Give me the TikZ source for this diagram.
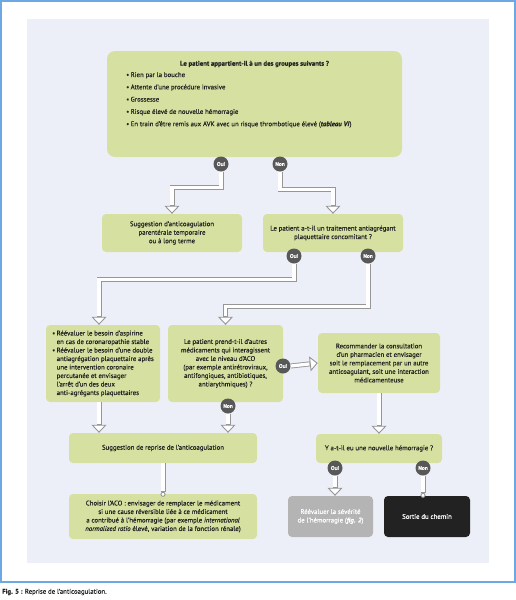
\documentclass[tikz,border=0pt]{standalone}
\usepackage{fontspec}
\setmainfont{PT Sans}[BoldFont={PT Sans Bold}, ItalicFont={PT Sans Italic},
  BoldItalicFont={PT Sans Bold Italic}, FakeBold=0.3]
\usetikzlibrary{arrows.meta}
\definecolor{fond}{RGB}{237,239,248}
\definecolor{vert}{RGB}{214,224,160}
\definecolor{cadre}{RGB}{110,168,228}
\definecolor{gristrait}{RGB}{150,150,150}
\definecolor{pastille}{RGB}{88,88,88}
\definecolor{texte}{RGB}{35,35,35}
\definecolor{grisbox}{RGB}{180,180,180}
\definecolor{noirbox}{RGB}{34,34,34}
\newcommand\puce{\makebox[4.5pt][l]{•}}

\begin{document}
\begin{tikzpicture}[x=1pt,y=-1pt,
    box/.style={fill=vert, rounded corners=4pt, align=center, text=texte, inner sep=2pt,
      font=\fontsize{6.8}{8.5}\selectfont},
    choice/.style={circle, fill=pastille, text=white, inner sep=0pt, minimum size=15pt,
      font=\fontsize{5.5}{6}\selectfont\bfseries},
    flow/.style={draw=gristrait, line width=5pt,
      -{Triangle[open, fill=white, line width=0.9pt, length=8pt, width=15pt]},
      postaction={draw=white, line width=3.2pt, -, shorten >=8.4pt}},
    flowdot/.style={draw=gristrait, line width=5pt,
      -{Circle[open, fill=white, line width=0.9pt, length=5pt]},
      postaction={draw=white, line width=3.2pt, -, shorten >=5.4pt}}]
  \useasboundingbox (0,0) rectangle (516,600);
  \draw[cadre, line width=1.2pt] (1,1) rectangle (515,582);
  \fill[fond] (27,19) rectangle (489,563);

  % premiere question
  \node[box, rounded corners=8pt, minimum width=295pt, minimum height=106pt] (groupes) at (254.5,104) {};
  \node[text=texte, font=\fontsize{6.8}{8}\selectfont\bfseries, inner sep=0pt] (titre) at (254.5,64)
    {Le patient appartient-il à un des groupes suivants ?};
  \node[anchor=north west, align=left, text=texte, inner sep=0pt,
    font=\fontsize{6.8}{12.3}\selectfont] (liste) at (126,72)
    {\puce Rien par la bouche\\
     \puce Attente d'une procédure invasive\\
     \puce Grossesse\\
     \puce Risque élevé de nouvelle hémorragie\\
     \puce En train d'être remis aux AVK avec un risque thrombotique élevé (\textbf{\textit{tableau VI}})};

  \node[box, minimum width=140pt, minimum height=38pt] (sugg) at (172,233)
    {Suggestion d'anticoagulation\\parentérale temporaire\\ou à long terme};
  \node[box, minimum width=140pt, minimum height=38pt] (antiag) at (333,233)
    {Le patient a-t-il un traitement antiagrégant\\plaquettaire concomitant ?};
  \node[box, minimum width=114pt, minimum height=77pt, align=left] (reeval) at (103,363.5)
    {\puce Réévaluer le besoin d'aspirine\\
     \hspace*{4.5pt}en cas de coronaropathie stable\\
     \puce Réévaluer le besoin d'une double\\
     \hspace*{4.5pt}antiagrégation plaquettaire après\\
     \hspace*{4.5pt}une intervention coronaire\\
     \hspace*{4.5pt}percutanée et envisager\\
     \hspace*{4.5pt}l'arrêt d'un des deux\\
     \hspace*{4.5pt}anti-agrégants plaquettaires};
  \node[box, minimum width=115pt, minimum height=77pt] (interact) at (225.5,363.5)
    {Le patient prend-t-il d'autres\\médicaments qui interagissent\\avec le niveau d'ACO\\
     (par exemple antirétroviraux,\\antifongiques, antibiotiques,\\antiarythmiques) ?};
  \node[box, minimum width=122pt, minimum height=60pt] (pharma) at (379,363)
    {Recommander la consultation\\d'un pharmacien et envisager\\soit le remplacement par un autre\\
     anticoagulant, soit une interaction\\médicamenteuse};
  \node[box, minimum width=188pt, minimum height=30pt] (reprise) at (163,448)
    {Suggestion de reprise de l'anticoagulation};
  \node[box, minimum width=188pt, minimum height=45pt] (choix) at (163,516.5)
    {Choisir l'ACO : envisager de remplacer le médicament\\si une cause réversible liée à ce médicament\\
     a contribué à l'hémorragie (par exemple \textit{international}\\
     \textit{normalized ratio} élevé, variation de la fonction rénale)};
  \node[box, minimum width=126pt, minimum height=29pt] (hemo) at (379,448.5)
    {Y a-t-il eu une nouvelle hémorragie ?};
  \node[box, fill=grisbox, text=white, minimum width=85pt, minimum height=41pt] (severite) at (330.5,516.5)
    {Réévaluer la sévérité\\de l'hémorragie (\textbf{\textit{fig. 2}})};
  \node[box, fill=noirbox, text=white, minimum width=86pt, minimum height=41pt] (sortie) at (427,516.5)
    {Sortie du chemin};

  % pastilles oui / non
  \foreach \nom/\mot/\pos in {ouiA/Oui/{(221,164)}, nonA/Non/{(280,164)},
      ouiB/Oui/{(294,256)}, nonB/Non/{(368,256)}, ouiC/Oui/{(283,366)},
      nonC/Non/{(228,406)}, ouiD/Oui/{(335,468)}, nonD/Non/{(423,468)}}
    \node[choice] (\nom) at \pos {\mot};

  % fleches
  \draw[flow] (ouiA.south) -- ++(0,16) -| (sugg.north);
  \draw[flow] (nonA.south) -- ++(0,18) -| (antiag.north);
  \draw[flow] (ouiB.south) -- ++(0,15.5) -| ([xshift=-4pt]reeval.north);
  \draw[flow] (nonB.south) -- ++(0,42.5) -| (interact.north);
  \draw[flow] (ouiC.east) -- (pharma.west);
  \draw[flow] ([xshift=-4pt]reeval.south) -- ([xshift=-4pt]reeval.south |- reprise.north);
  \draw[flow] (nonC.south) -- (nonC.south |- reprise.north);
  \draw[flowdot] (reprise.south) -- ([yshift=-3pt]choix.north);
  \draw[flow] (pharma.south) -- (hemo.north);
  \draw[flow] (ouiD.south) -- (ouiD.south |- severite.north);
  \draw[flowdot] (nonD.south) -- ([yshift=-2pt]nonD.south |- sortie.north);

  \node[anchor=west, text=texte, inner sep=0pt, font=\fontsize{6.8}{8}\selectfont] (legende) at (2,592)
    {\textbf{Fig. 5 :} Reprise de l'anticoagulation.};
\end{tikzpicture}
\end{document}
